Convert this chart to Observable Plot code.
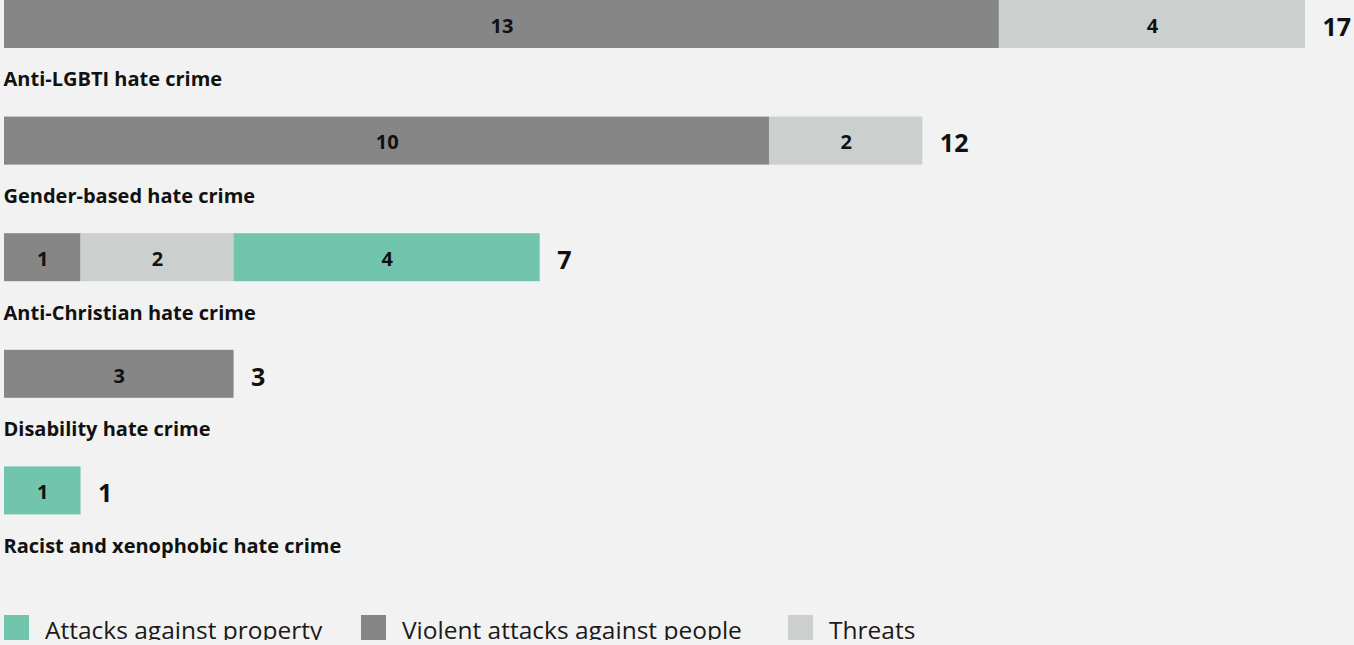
<!DOCTYPE html>
<html>
<head>
<meta charset="utf-8">
<script src="https://cdn.jsdelivr.net/npm/d3@7"></script>
<script src="https://cdn.jsdelivr.net/npm/@observablehq/plot@0.6"></script>
<style>
  html, body { margin: 0; padding: 0; background: #f2f2f2; overflow: hidden; }
  #chart svg { display: block; }
  .legend { display: flex; align-items: flex-end; margin-top: 32px; padding-left: 4px;
            font-family: "Open Sans", sans-serif; font-size: 24.5px; color: #1a1a1a; line-height: 1; }
  .legend .item { display: flex; align-items: flex-end; flex: none; }
  .legend .sw { width: 25px; height: 25px; margin-right: 16px; flex: none; }
  .legend .lab { position: relative; top: 2px; white-space: nowrap; }
</style>
</head>
<body>
<div id="chart"></div>
<script>
const categories = [
  "Anti-LGBTI hate crime",
  "Gender-based hate crime",
  "Anti-Christian hate crime",
  "Disability hate crime",
  "Racist and xenophobic hate crime"
];
const types = ["Violent attacks against people", "Threats", "Attacks against property"];
const violent = [13, 10, 1, 3, 0];
const threats = [4, 2, 2, 0, 0];
const property = [0, 0, 4, 0, 1];
const legendOrder = ["Attacks against property", "Violent attacks against people", "Threats"];
const colors = {
  "Violent attacks against people": "#868686",
  "Threats": "#cbcfce",
  "Attacks against property": "#70c5ac"
};

const series = [violent, threats, property];
const rows = [];
categories.forEach((c, i) => {
  types.forEach((t, j) => {
    rows.push({category: c, type: t, value: series[j][i]});
  });
});
const totals = categories.map((c, i) => ({category: c, total: violent[i] + threats[i] + property[i]}));

const W = 1354, H = 583, band = H / categories.length;

const chart = Plot.plot({
  width: W,
  height: H,
  marginLeft: 4,
  marginRight: 49,
  marginTop: 0,
  marginBottom: 0,
  style: {fontFamily: "'Open Sans', sans-serif", background: "transparent", color: "#111"},
  x: {domain: [0, 17], axis: null},
  y: {domain: categories, axis: null, padding: 0, round: false},
  color: {domain: types, range: types.map(t => colors[t])},
  marks: [
    Plot.barX(rows, Plot.stackX({
      x: "value", y: "category", fill: "type",
      insetBottom: band - 48, insetTop: 0
    })),
    Plot.text(rows.filter(d => d.value > 0), Plot.stackX({
      x: "value", y: "category", z: "type", text: d => String(d.value),
      fontSize: 20, fontWeight: "bold", fill: "#111", dy: -32.5
    })),
    Plot.text(totals, {
      x: "total", y: "category", text: d => String(d.total),
      textAnchor: "start", dx: 17, dy: -31,
      fontSize: 25, fontWeight: "bold", fill: "#111"
    }),
    Plot.text(categories, {
      x: 0, y: d => d, text: d => d,
      textAnchor: "start", lineAnchor: "bottom", dy: 27.5, dx: -1,
      fontSize: 20, fontWeight: "bold", fill: "#111"
    })
  ]
});
document.getElementById("chart").appendChild(chart);

const legendWidths = [357, 427, 200];
const legend = document.createElement("div");
legend.className = "legend";
legendOrder.forEach((t, i) => {
  const item = document.createElement("div");
  item.className = "item";
  item.style.width = legendWidths[i] + "px";
  const sw = document.createElement("div");
  sw.className = "sw";
  sw.style.background = colors[t];
  const lab = document.createElement("span");
  lab.className = "lab";
  lab.textContent = t;
  item.appendChild(sw);
  item.appendChild(lab);
  legend.appendChild(item);
});
document.body.appendChild(legend);
</script>
</body>
</html>
